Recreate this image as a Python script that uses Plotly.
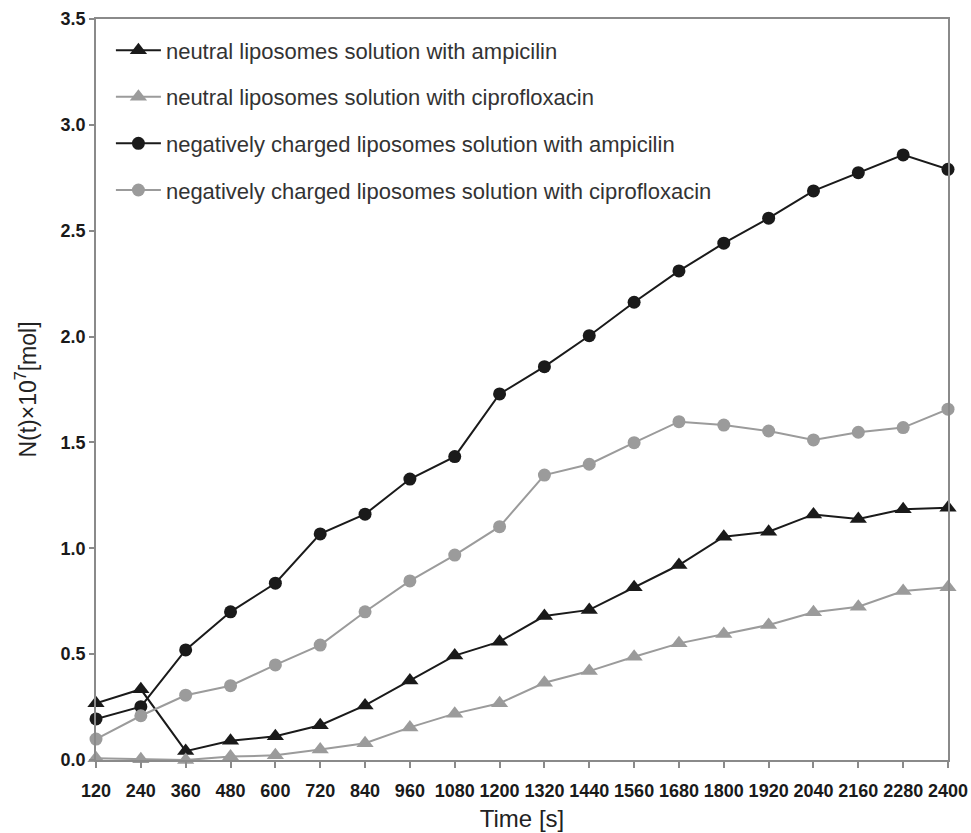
import plotly.graph_objects as go

time_s = [120, 240, 360, 480, 600, 720, 840, 960, 1080, 1200, 1320, 1440,
          1560, 1680, 1800, 1920, 2040, 2160, 2280, 2400]

neutral_ampicilin = [0.268, 0.334, 0.042, 0.091, 0.112, 0.164, 0.258, 0.376, 0.493, 0.559,
                     0.680, 0.709, 0.816, 0.921, 1.055, 1.078, 1.160, 1.138, 1.184, 1.192]
neutral_cipro = [0.008, 0.003, 0.000, 0.016, 0.022, 0.050, 0.079, 0.154, 0.219, 0.268,
                 0.365, 0.420, 0.488, 0.551, 0.595, 0.638, 0.698, 0.724, 0.798, 0.816]
negative_ampicilin = [0.194, 0.252, 0.520, 0.700, 0.835, 1.068, 1.161, 1.327, 1.433, 1.729,
                      1.858, 2.004, 2.162, 2.310, 2.441, 2.559, 2.688, 2.774, 2.858, 2.790]
negative_cipro = [0.099, 0.209, 0.306, 0.351, 0.449, 0.543, 0.700, 0.846, 0.968, 1.102,
                  1.346, 1.397, 1.499, 1.598, 1.582, 1.554, 1.512, 1.548, 1.570, 1.657]

series_names = [
    "neutral liposomes solution with ampicilin",
    "neutral liposomes solution with ciprofloxacin",
    "negatively charged liposomes solution with ampicilin",
    "negatively charged liposomes solution with ciprofloxacin",
]
y_ticks = [0.0, 0.5, 1.0, 1.5, 2.0, 2.5, 3.0, 3.5]

BLACK = "#1a1a1a"
GRAY = "#9b9b9b"
AXIS = "#8a8a8a"
FONT = "Liberation Sans, Arial, sans-serif"

styles = [
    (neutral_ampicilin, BLACK, "triangle-up", 15),
    (neutral_cipro, GRAY, "triangle-up", 15),
    (negative_ampicilin, BLACK, "circle", 13),
    (negative_cipro, GRAY, "circle", 13),
]

fig = go.Figure()
for i, (vals, col, sym, sz) in enumerate(styles):
    fig.add_trace(go.Scatter(
        x=time_s, y=vals, name=series_names[i], mode="lines+markers",
        line=dict(color=col, width=2),
        marker=dict(symbol=sym, size=sz, color=col, line=dict(width=0)),
        cliponaxis=False, legendgroup=f"g{i}",
    ))

fig.update_layout(
    width=971, height=833,
    margin=dict(l=96, r=23, t=19, b=73),
    paper_bgcolor="white", plot_bgcolor="white",
    font=dict(family=FONT, color="#222"),
    showlegend=True,
    legend=dict(
        x=0.0175, y=0.986, xanchor="left", yanchor="top",
        font=dict(size=22, color="#333", family=FONT),
        bgcolor="rgba(0,0,0,0)", tracegroupgap=15, traceorder="grouped",
        itemwidth=45,
    ),
    xaxis=dict(
        range=[120, 2400], tickmode="array", tickvals=time_s,
        ticktext=[str(t) for t in time_s],
        ticks="outside", ticklen=6, tickcolor=AXIS, tickwidth=1.5,
        showline=True, linecolor=AXIS, linewidth=1.5, mirror=True,
        showgrid=False, zeroline=False, ticklabelstandoff=8, automargin=False,
        tickfont=dict(size=18, family=FONT, color="#1a1a1a", weight="bold"),
        title=dict(text="Time [s]", font=dict(size=24, family=FONT, color="#222"), standoff=10),
    ),
    yaxis=dict(
        range=[0, 3.5], tickmode="array", tickvals=y_ticks,
        ticktext=[f"{v:.1f}" for v in y_ticks],
        ticks="outside", ticklen=5, tickcolor=AXIS, tickwidth=1.5,
        showline=True, linecolor=AXIS, linewidth=1.5, mirror=True,
        showgrid=False, zeroline=False, automargin=False,
        tickfont=dict(size=18, family=FONT, color="#1a1a1a", weight="bold"),
        title=dict(text="N(t)×10<sup>7</sup>[mol]", font=dict(size=23, family=FONT, color="#222"), standoff=18),
    ),
)

fig.write_html("out.html")
